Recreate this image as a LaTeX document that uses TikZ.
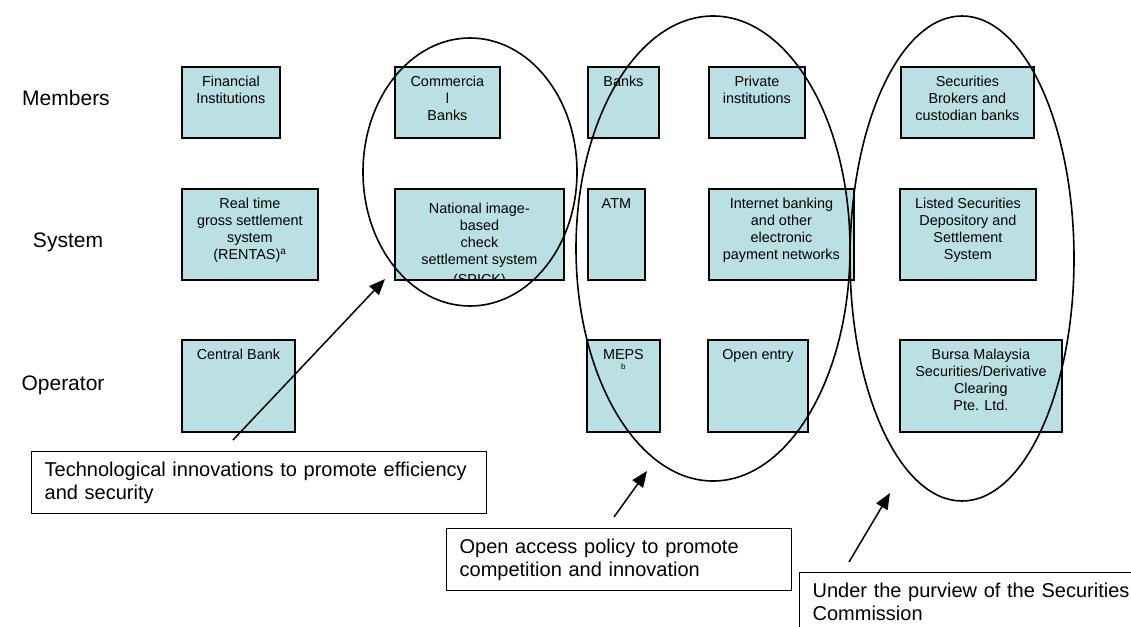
\documentclass[tikz,border=0pt]{standalone}
\usepackage{fontspec}
\setmainfont{Liberation Sans}
\usepackage{tikz}
\usetikzlibrary{shapes}
\usetikzlibrary{arrows.meta}
\definecolor{cellfill}{RGB}{186,224,227}
\tikzset{
	cell node/.style={draw=black,fill=cellfill,line width=1.8pt,anchor=north west,inner sep=0pt},
	cell text/.style={anchor=north,align=center,inner sep=0pt,yshift=-10pt,font=\fontsize{14.4}{17}\selectfont},
	row label/.style={anchor=base,font=\fontsize{21}{24}\selectfont},
	note node/.style={draw,fill=white,line width=1.3pt,anchor=north west,align=left,
		inner xsep=13pt,inner ysep=10pt,font=\fontsize{20}{23}\selectfont},
	ring/.style={ellipse,draw,line width=1.6pt,inner sep=0pt},
	pointer/.style={->,line width=1.5pt}
}

\begin{document}
\begin{tikzpicture}[x=1pt,y=-1pt,>={Triangle[length=16pt,width=13pt]}]
	\useasboundingbox (0,0) rectangle (1131,626);
	% rows
	\node [row label] (mem) at (66,105) {Members};
	\node [row label] (sys) at (68,247) {System};
	\node [row label] (opr) at (63,390) {Operator};
	% members
	\node [cell node,minimum width=98,minimum height=71,label={[cell text]north:{Financial\\Institutions}}] (fin) at (181,66) {};
	\node [cell node,minimum width=105,minimum height=71,label={[cell text]north:{Commercia\\l\\Banks}}] (com) at (394,66) {};
	\node [cell node,minimum width=71,minimum height=71,label={[cell text]north:{Banks}}] (bnk) at (587,66) {};
	\node [cell node,minimum width=96,minimum height=71,label={[cell text]north:{Private\\institutions}}] (prv) at (708,66) {};
	\node [cell node,minimum width=133,minimum height=71,label={[cell text]north:{Securities\\Brokers and\\custodian banks}}] (sec) at (900,66) {};
	% systems
	\node [cell node,minimum width=136,minimum height=91,label={[cell text]north:{Real time\\gross settlement\\system\\(RENTAS)\textsuperscript{a}}}] (rts) at (181,188) {};
	\node [cell node,minimum width=169,minimum height=91,
		path picture={\node [cell text] at (path picture bounding box.north) {National image-\\based\\check\\settlement system\\[3pt](SPICK)};}] (nat) at (394,188) {};
	\node [cell node,minimum width=57,minimum height=91,label={[cell text]north:{ATM}}] (atm) at (587,188) {};
	\node [cell node,minimum width=145,minimum height=91,label={[cell text]north:{Internet banking\\and other\\electronic\\payment networks}}] (inb) at (708,188) {};
	\node [cell node,minimum width=136,minimum height=91,label={[cell text]north:{Listed Securities\\Depository and\\Settlement\\System}}] (lsd) at (899,188) {};
	% operators
	\node [cell node,minimum width=113,minimum height=92,label={[cell text]north:{Central Bank}}] (cbk) at (181,339) {};
	\node [cell node,minimum width=73,minimum height=92,label={[cell text]north:{MEPS\\[-7pt]{\fontsize{8}{8}\selectfont b}}}] (mep) at (586,339) {};
	\node [cell node,minimum width=100,minimum height=92,label={[cell text]north:{Open entry}}] (opn) at (707,339) {};
	\node [cell node,minimum width=162,minimum height=92,label={[cell text]north:{Bursa Malaysia\\Securities/Derivative\\Clearing\\Pte. Ltd.}}] (bur) at (899,339) {};
	% groupings
	\node [ring,minimum width=214,minimum height=268] (ringA) at (470,172) {};
	\node [ring,minimum width=274,minimum height=465] (ringB) at (713,248.5) {};
	\node [ring,minimum width=224,minimum height=485] (ringC) at (962,258.5) {};
	% callouts
	\node [note node,text width=429] (techbox) at (31,451) {Technological innovations to promote efficiency\\and security};
	\node [note node,text width=319] (openbox) at (446,528) {Open access policy to promote\\competition and innovation};
	\node [note node,text width=330] (scbox) at (799,572) {Under the purview of the Securities\\Commission};
	\coordinate (techtail) at (233,440);
	\coordinate (techtip) at (385,279);
	\coordinate (opentail) at (614,517);
	\coordinate (opentip) at (647,471);
	\coordinate (sctail) at (849,562);
	\coordinate (sctip) at (890,493);
	\draw [pointer] (techtail) -- (techtip);
	\draw [pointer] (opentail) -- (opentip);
	\draw [pointer] (sctail) -- (sctip);
\end{tikzpicture}
\end{document}
